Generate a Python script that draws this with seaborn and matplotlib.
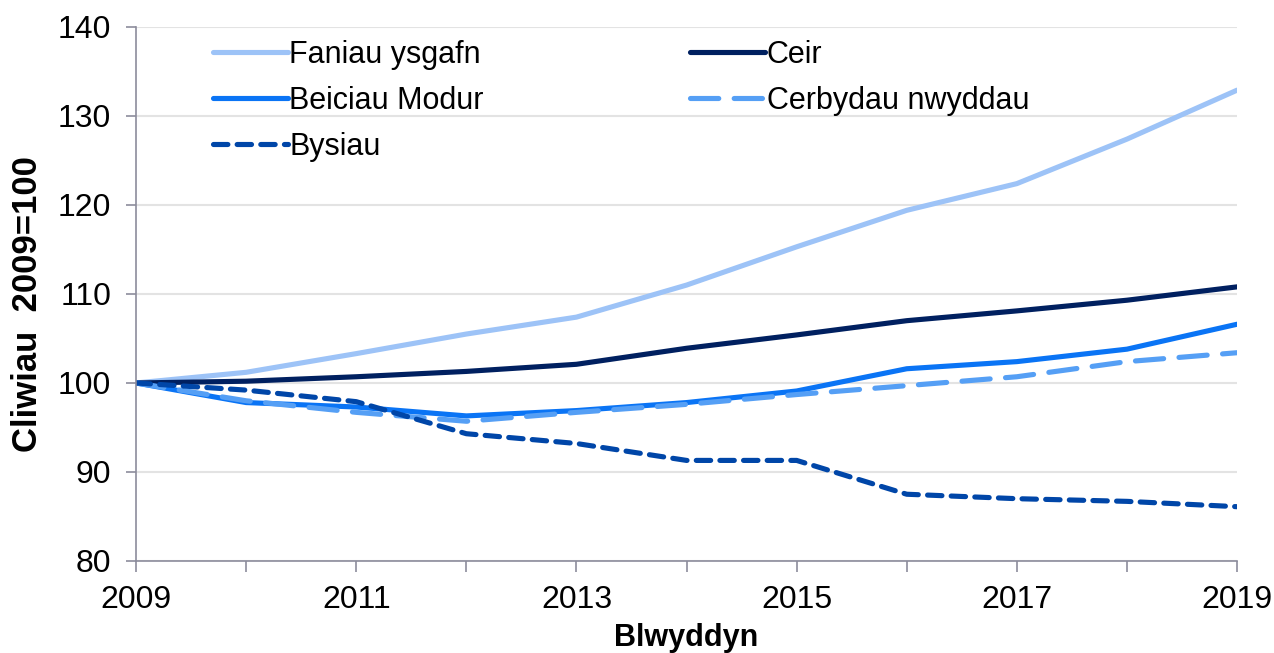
import pandas as pd
import seaborn as sns
import matplotlib.pyplot as plt
from matplotlib.ticker import MultipleLocator

# data (index 2009=100)
years = list(range(2009, 2020))
faniau = [100, 101.2, 103.3, 105.5, 107.4, 111.0, 115.3, 119.4, 122.4, 127.4, 132.9]
ceir = [100, 100.2, 100.7, 101.3, 102.1, 103.9, 105.4, 107.0, 108.1, 109.3, 110.8]
beiciau = [100, 97.8, 97.3, 96.3, 96.9, 97.8, 99.1, 101.6, 102.4, 103.8, 106.6]
cerbydau = [100, 98.0, 96.7, 95.7, 96.7, 97.6, 98.7, 99.7, 100.7, 102.4, 103.4]
bysiau = [100, 99.2, 97.9, 94.3, 93.2, 91.3, 91.3, 87.5, 87.0, 86.7, 86.1]

series = {
    'Faniau ysgafn': faniau,
    'Ceir': ceir,
    'Beiciau Modur': beiciau,
    'Cerbydau nwyddau': cerbydau,
    'Bysiau': bysiau,
}
colours = {
    'Faniau ysgafn': '#9dc3f7',
    'Ceir': '#002060',
    'Beiciau Modur': '#0a74f5',
    'Cerbydau nwyddau': '#559ff5',
    'Bysiau': '#0046a8',
}
dashes = {
    'Faniau ysgafn': None,
    'Ceir': None,
    'Beiciau Modur': None,
    'Cerbydau nwyddau': (5.5, 3.0),
    'Bysiau': (2.8, 1.8),
}

sns.set_style('white')
plt.rcParams['font.family'] = ['Liberation Sans', 'DejaVu Sans']
plt.rcParams['text.color'] = 'black'

fig = plt.figure(figsize=(12.74, 6.53), dpi=100)
ax = fig.add_axes([0.1068, 0.1409, 0.8642, 0.8178])

lines = {}
for name, vals in series.items():
    df = pd.DataFrame({'year': years, 'value': vals})
    sns.lineplot(data=df, x='year', y='value', ax=ax, color=colours[name],
                 linewidth=3.7, label=name)
    ln = ax.get_lines()[-1]
    if dashes[name] is not None:
        ln.set_dashes(dashes[name])
        ln.set_dash_capstyle('round')
    lines[name] = ln

ax.set_xlim(2009, 2019)
ax.set_ylim(80, 140)
ax.set_xticks(range(2009, 2020, 2))
ax.xaxis.set_minor_locator(MultipleLocator(1))
ax.set_yticks(range(80, 141, 10))
ax.yaxis.grid(True, color='#e3e3e3', linewidth=1.5)
ax.set_axisbelow(True)
for s in ['top', 'right']:
    ax.spines[s].set_visible(False)
for s in ['left', 'bottom']:
    ax.spines[s].set_color('#8c8c9c')
    ax.spines[s].set_linewidth(1.2)
ax.tick_params(axis='y', which='both', left=True, length=7, width=1.2,
               color='#8c8c9c', labelsize=23, labelcolor='black', pad=11)
ax.tick_params(axis='x', which='both', bottom=True, length=8, width=1.2,
               color='#8c8c9c', labelsize=23, labelcolor='black', pad=9)

ax.set_xlabel('Blwyddyn', fontsize=22, fontweight='bold', color='black',
              labelpad=6)
ax.set_ylabel('Cliwiau  2009=100', fontsize=25, fontweight='bold',
              color='black')
ax.yaxis.set_label_coords(-0.084, 0.481)

order = ['Faniau ysgafn', 'Beiciau Modur', 'Bysiau', 'Ceir', 'Cerbydau nwyddau']
ax.legend([lines[n] for n in order], order, ncol=2, frameon=False,
          loc='upper left', bbox_to_anchor=(0.045, 1.027), fontsize=22,
          handlelength=2.45, handletextpad=0.05, columnspacing=6.75,
          labelspacing=0.52)

fig.savefig('out.png', dpi=100)
